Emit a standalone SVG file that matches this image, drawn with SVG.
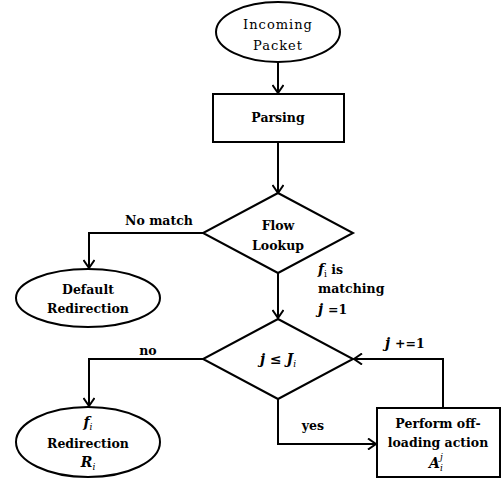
<svg xmlns="http://www.w3.org/2000/svg" width="501" height="478" viewBox="0 0 501 478">
<defs>
<marker id="arr" markerWidth="12" markerHeight="12" refX="10" refY="6" orient="auto" markerUnits="userSpaceOnUse">
<path d="M2,0.5 L10,6 L2,11.5" fill="none" stroke="#000" stroke-width="2"/>
</marker>
<style>
.s{fill:#fff;stroke:#000;stroke-width:2}
.c{fill:none;stroke:#000;stroke-width:2;marker-end:url(#arr)}
text{font-family:"DejaVu Serif","Liberation Serif",serif;font-size:12.5px;fill:#000;text-anchor:middle}
.b{font-weight:bold}
.r{font-weight:normal;letter-spacing:1px;font-size:13px}
.m{font-style:italic;font-weight:bold;font-size:14px}
.l{text-anchor:start}
.sub{font-size:9px;font-weight:normal}
</style>
</defs>
<rect width="501" height="478" fill="#fff"/>
<g id="connectors">
<path class="c" d="M278,63 V93"/>
<path class="c" d="M278,142 V193"/>
<path class="c" d="M203,233 H89 V268"/>
<path class="c" d="M278,273 V318"/>
<path class="c" d="M203,359 H89 V406"/>
<path class="c" d="M278,399 V444 H376"/>
<path class="c" d="M443,408 V359 H354"/>
</g>
<g id="incoming">
<ellipse class="s" cx="278" cy="32" rx="62" ry="30"/>
<text class="r" x="278" y="29">Incoming</text>
<text class="r" x="278" y="50">Packet</text>
</g>
<g id="parsing">
<rect class="s" x="213" y="94" width="131" height="48"/>
<text class="b" x="278" y="122">Parsing</text>
</g>
<g id="flowlookup">
<polygon class="s" points="278,193 353,233 278,273 203,233"/>
<text class="b" x="278" y="230">Flow</text>
<text class="b" x="278" y="250">Lookup</text>
</g>
<g id="default">
<ellipse class="s" cx="88" cy="298" rx="72" ry="29"/>
<text class="b" x="88" y="294">Default</text>
<text class="b" x="88" y="313">Redirection</text>
</g>
<g id="jcheck">
<polygon class="s" points="278,319 353,359 278,399 203,359"/>
<text class="m" x="278" y="364">j ≤ J<tspan class="sub" dy="3">i</tspan></text>
</g>
<g id="redirect">
<ellipse class="s" cx="88" cy="442" rx="72" ry="35"/>
<text class="m" x="88" y="427">f<tspan class="sub" dy="3">i</tspan></text>
<text class="b" x="88" y="448">Redirection</text>
<text class="m" x="88" y="467">R<tspan class="sub" dy="3">i</tspan></text>
</g>
<g id="offload">
<rect class="s" x="377" y="408" width="123" height="69"/>
<text class="b" x="438" y="428">Perform off-</text>
<text class="b" x="438" y="447">loading action</text>
<text class="m" x="436" y="468">A<tspan class="sub" dy="3">i</tspan><tspan class="sub" dx="-3" dy="-11">j</tspan></text>
</g>
<g id="labels">
<text class="b" x="159" y="225">No match</text>
<text class="m l" x="318" y="274">f<tspan class="sub" dy="3" font-style="normal">i</tspan><tspan dy="-3" font-style="normal" font-size="12.5"> is</tspan></text>
<text class="b l" x="318" y="293">matching</text>
<text class="m l" x="318" y="314">j <tspan font-style="normal" font-size="12.5">=1</tspan></text>
<text class="b" x="148" y="355">no</text>
<text class="b" x="313" y="430">yes</text>
<text class="m l" x="385" y="348">j <tspan font-style="normal" font-size="12.5">+=1</tspan></text>
</g>
</svg>
